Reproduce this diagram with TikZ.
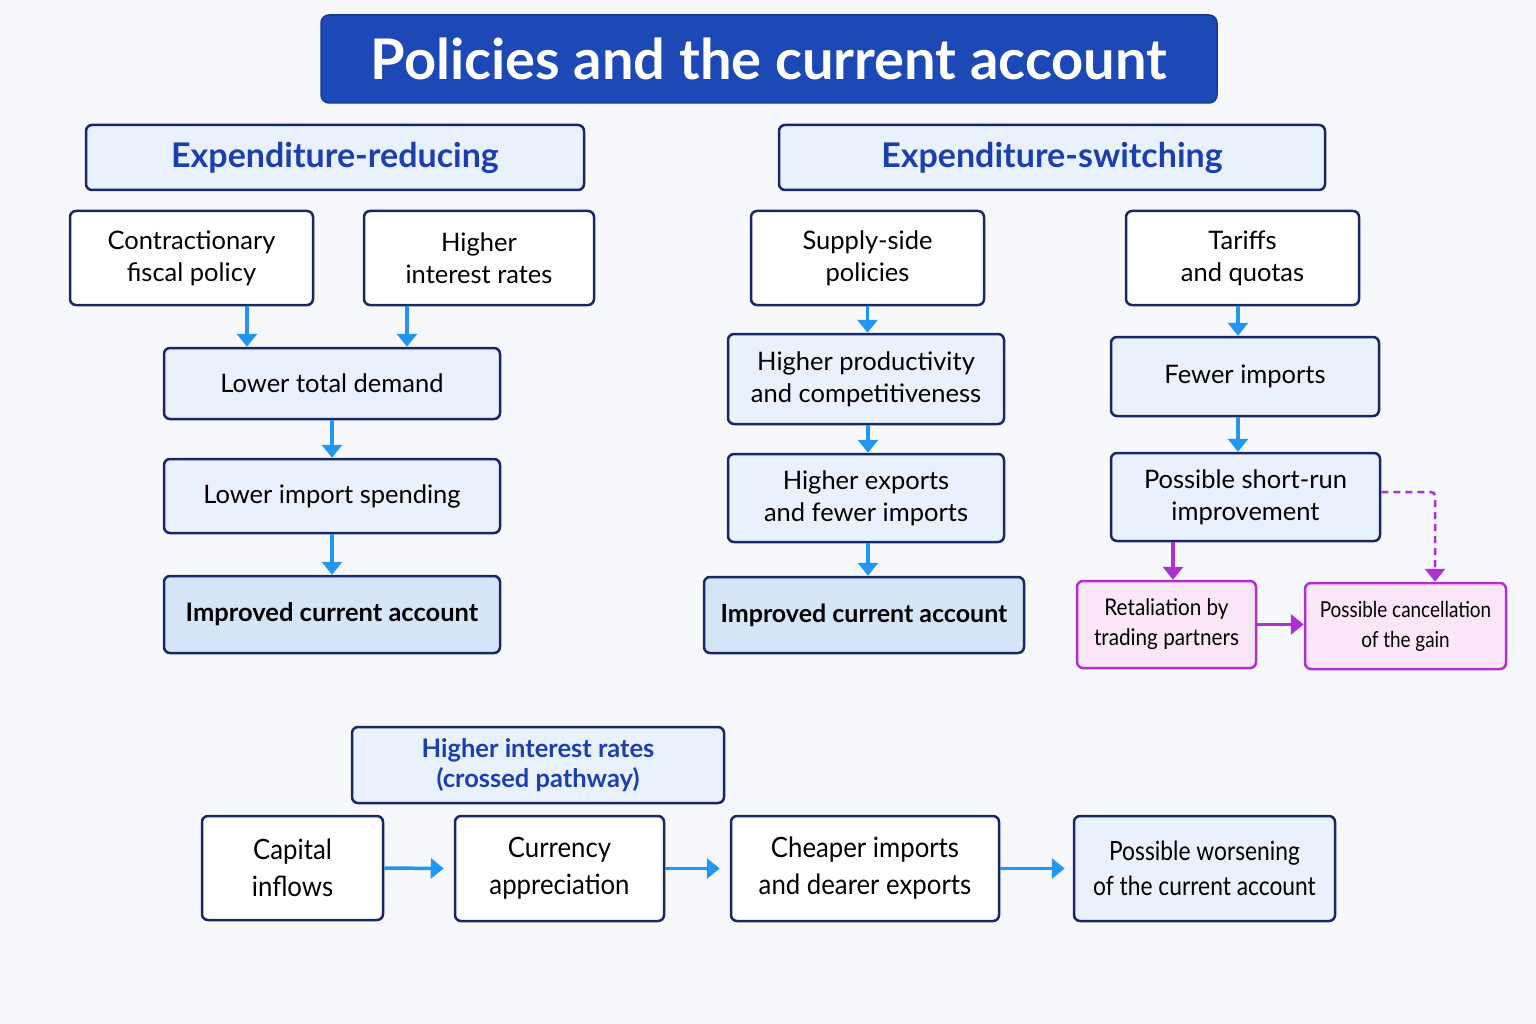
\documentclass[tikz,border=0pt]{standalone}
\usepackage{fontspec}
\setmainfont{Lato}
\newfontfamily\condfont[FakeStretch=0.92]{Lato}
\newfontfamily\condfontb[FakeStretch=0.86]{Lato}
\newfontfamily\pinkfont[FakeStretch=0.9]{Lato}
\newfontfamily\pinkfontb[FakeStretch=0.86]{Lato}
\usetikzlibrary{arrows.meta,calc}
\definecolor{bgc}{HTML}{F7F8FB}
\definecolor{navy}{HTML}{1A2766}
\definecolor{titlec}{HTML}{1C49B6}
\definecolor{lightb}{HTML}{E8F1FC}
\definecolor{darkb}{HTML}{D4E5F7}
\definecolor{bluet}{HTML}{1D3FAE}
\definecolor{arrowc}{HTML}{2196F3}
\definecolor{purp}{HTML}{B02FD0}
\definecolor{pinkf}{HTML}{FBE6F9}
\tikzset{
  x=1pt,y=-1pt,
  box/.style={draw=navy,line width=2.5pt,rounded corners=6pt,align=center,inner sep=2pt,text=black,
    font=\fontsize{25.5}{32}\selectfont},
  wbox/.style={box,fill=white},
  lbox/.style={box,fill=lightb},
  ibox/.style={box,fill=darkb,font=\fontsize{25.5}{32}\bfseries\selectfont},
  hbox/.style={box,fill=lightb,text=bluet,font=\fontsize{34}{40}\bfseries\selectfont},
  pbox/.style={box,draw=purp,fill=pinkf,font=\pinkfont\fontsize{23}{30}\selectfont},
  cbox/.style={box,font=\condfont\fontsize{28}{37}\selectfont},
  arr/.style={draw=arrowc,line width=3.5pt,-{Triangle[width=20pt,length=13pt]}},
  parr/.style={draw=purp,line width=3.5pt,-{Triangle[width=20pt,length=13pt]}},
  pdarr/.style={draw=purp,line width=2.5pt,dash pattern=on 7pt off 5pt,-{Triangle[width=20pt,length=13pt]}},
}
\begin{document}
\begin{tikzpicture}
\fill[bgc] (0,0) rectangle (1536,1024);
\useasboundingbox (0,0) rectangle (1536,1024);
% title
\node[draw=titlec!80!black,line width=1.5pt,fill=titlec,rounded corners=8pt,text=white,
  font=\fontsize{56}{62}\bfseries\selectfont,minimum width=896pt,minimum height=88pt] (title) at (769,59) {Policies and the current account};
% headers
\node[hbox,minimum width=498pt,minimum height=65pt] (hred) at (335,157.5) {Expenditure-reducing};
\node[hbox,minimum width=546pt,minimum height=65pt] (hsw) at (1052,157.5) {Expenditure-switching};
% left column
\node[wbox,minimum width=243pt,minimum height=94pt] (contr) at (191.5,258) {Contractionary\\fiscal policy};
\node[wbox,minimum width=230pt,minimum height=94pt] (hir) at (479,258) {Higher\\interest rates};
\node[lbox,minimum width=336pt,minimum height=71pt] (ltd) at (332,383.5) {Lower total demand};
\node[lbox,minimum width=336pt,minimum height=74pt] (lis) at (332,496) {Lower import spending};
\node[ibox,minimum width=336pt,minimum height=77pt] (ica1) at (332,614.5) {Improved current account};
\draw[arr] ([xshift=55.5pt]contr.south) -- ([xshift=55.5pt]contr.south |- ltd.north);
\draw[arr] ([xshift=-72pt]hir.south) -- ([xshift=-72pt]hir.south |- ltd.north);
\draw[arr] (ltd) -- (lis);
\draw[arr] (lis) -- (ica1);
% middle column
\node[wbox,minimum width=233pt,minimum height=94pt] (sup) at (867.5,258) {Supply-side\\policies};
\node[lbox,minimum width=276pt,minimum height=90pt] (hpc) at (866,379) {Higher productivity\\and competitiveness};
\node[lbox,minimum width=276pt,minimum height=88pt] (hef) at (866,498) {Higher exports\\and fewer imports};
\node[ibox,font=\fontsize{25}{32}\bfseries\selectfont,minimum width=320pt,minimum height=76pt] (ica2) at (864,615) {Improved current account};
\draw[arr] (sup.south) -- (sup.south |- hpc.north);
\draw[arr] ([xshift=2pt]hpc.south) -- ([xshift=2pt]hpc.south |- hef.north);
\draw[arr] ([xshift=2pt]hef.south) -- ([xshift=2pt]hef.south |- ica2.north);
% right column
\node[wbox,minimum width=233pt,minimum height=94pt] (tar) at (1242.5,258) {Tariffs\\and quotas};
\node[lbox,minimum width=268pt,minimum height=79pt] (fewer) at (1245,376.5) {Fewer imports};
\node[lbox,minimum width=269pt,minimum height=88pt] (psr) at (1245.5,497) {Possible short-run\\improvement};
\node[pbox,minimum width=179pt,minimum height=87pt] (ret) at (1166.5,624.5) {Retaliation by\\trading partners};
\node[pbox,font=\pinkfontb\fontsize{22}{30}\selectfont,minimum width=201pt,minimum height=86pt] (canc) at (1405.5,626) {Possible cancellation\\of the gain};
\draw[arr] ([xshift=-4.5pt]tar.south) -- ([xshift=-4.5pt]tar.south |- fewer.north);
\draw[arr] ([xshift=-7pt]fewer.south) -- ([xshift=-7pt]fewer.south |- psr.north);
\draw[parr] ([xshift=-72.5pt]psr.south) -- ([xshift=-72.5pt]psr.south |- ret.north);
\draw[parr] (ret.east) -- (ret.east -| canc.west);
\draw[pdarr,rounded corners=4pt] ([yshift=5pt]psr.east) -- ([xshift=29.5pt,yshift=5pt]psr.east -| canc.center) -- ([xshift=29.5pt]canc.north);
% bottom row
\node[box,fill=lightb,text=bluet,font=\fontsize{25.5}{30}\bfseries\selectfont,minimum width=372pt,minimum height=76pt] (hirc) at (538,765) {Higher interest rates\\(crossed pathway)};
\node[cbox,fill=white,minimum width=181pt,minimum height=104pt] (cap) at (292.5,868) {Capital\\inflows};
\node[cbox,fill=white,minimum width=209pt,minimum height=105pt] (cur) at (559.5,868.5) {Currency\\appreciation};
\node[cbox,fill=white,minimum width=268pt,minimum height=105pt] (chp) at (865,868.5) {Cheaper imports\\and dearer exports};
\node[cbox,font=\condfontb\fontsize{26.5}{35}\selectfont,fill=lightb,minimum width=261pt,minimum height=105pt] (wors) at (1204.5,868.5) {Possible worsening\\of the current account};
\draw[arr] (cap.east) -- ([xshift=-10pt]cur.west);
\draw[arr] (cur.east) -- ([xshift=-10pt]chp.west);
\draw[arr] (chp.east) -- ([xshift=-8pt]wors.west);
\end{tikzpicture}
\end{document}
